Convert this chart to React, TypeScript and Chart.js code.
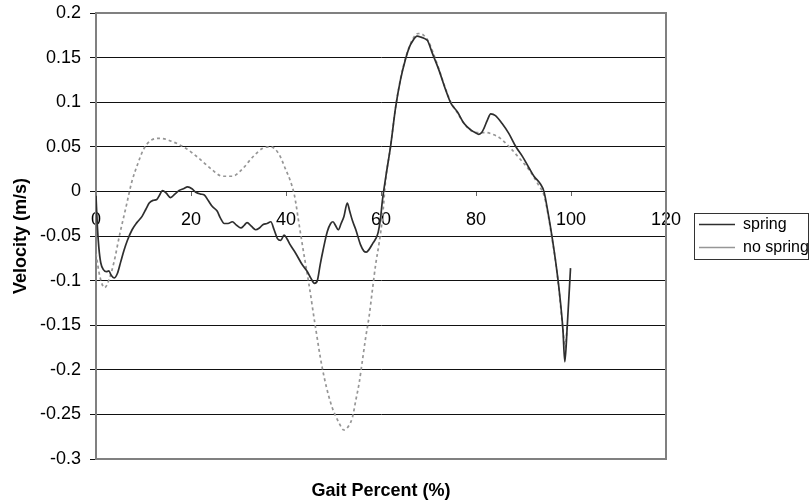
import React, { useEffect, useRef } from "react";
import { Chart, registerables } from "chart.js";

Chart.register(...registerables);

const SERIES_LABELS = ["spring", "no spring"];
const X_TITLE = "Gait Percent (%)";
const Y_TITLE = "Velocity (m/s)";
const X_TICKS = [0, 20, 40, 60, 80, 100, 120];
const Y_TICKS = [-0.3, -0.25, -0.2, -0.15, -0.1, -0.05, 0, 0.05, 0.1, 0.15, 0.2];

const springX = [
  0, 0.3, 0.6, 1.0, 1.6, 2.2, 2.7, 3.2, 3.8, 4.5, 5.2, 5.9, 6.6, 7.6, 8.6, 9.7, 10.5, 11.2, 12.0, 12.8,
  13.4, 14.0, 14.8, 15.7, 16.6, 17.5, 18.4, 19.3, 20.2, 21.0, 22.0, 22.8, 23.6, 24.5, 25.5, 26.2, 27.0,
  27.8, 28.7, 29.6, 30.5, 31.2, 31.8, 32.7, 33.6, 34.4, 35.2, 36.0, 36.8, 37.5, 38.2, 38.9, 39.6, 40.2,
  40.9, 42.0, 43.4, 44.5, 45.2, 46.0, 46.6, 47.2, 47.8, 48.7, 49.4, 49.9, 50.4, 51.0, 51.6, 52.2, 52.9,
  53.4, 54.0, 54.7, 55.7, 56.4, 56.9, 57.5, 58.3, 58.9, 59.4, 59.9, 60.3, 61.0, 62.0, 63.1, 64.1, 65.2,
  66.0, 66.6, 67.6, 68.4, 69.3, 69.8, 70.8, 72.2, 73.6, 74.7, 76.1, 77.5, 78.9, 79.8, 80.6, 81.2, 81.7,
  82.4, 83.1, 84.1, 85.5, 86.9, 88.4, 89.8, 91.2, 92.2, 93.6, 94.3, 95.2, 96.1, 96.8, 97.5, 98.3, 98.7,
  99.2, 99.9,
];
const springV = [
  -0.005, -0.04, -0.063, -0.08, -0.088, -0.09, -0.089, -0.094, -0.097, -0.092, -0.079, -0.066, -0.055,
  -0.043, -0.035, -0.028, -0.02, -0.013, -0.01, -0.009, -0.004, 0.001, -0.002, -0.007, -0.003, 0.001,
  0.003, 0.005, 0.003, -0.001, -0.003, -0.004, -0.01, -0.017, -0.022, -0.03, -0.036, -0.036, -0.034,
  -0.038, -0.041, -0.038, -0.035, -0.039, -0.043, -0.041, -0.037, -0.036, -0.034, -0.043, -0.053, -0.055,
  -0.049, -0.053, -0.06, -0.069, -0.082, -0.09, -0.097, -0.103, -0.1, -0.082, -0.066, -0.045, -0.036,
  -0.034, -0.038, -0.043, -0.036, -0.028, -0.013, -0.022, -0.033, -0.043, -0.06, -0.067, -0.068, -0.065,
  -0.058, -0.053, -0.046, -0.03, -0.01, 0.016, 0.05, 0.095, 0.125, 0.149, 0.162, 0.168, 0.174, 0.173,
  0.171, 0.169, 0.155, 0.136, 0.114, 0.099, 0.089, 0.076, 0.069, 0.066, 0.064, 0.066, 0.071, 0.08, 0.087,
  0.085, 0.076, 0.065, 0.05, 0.039, 0.026, 0.017, 0.008, 0.0, -0.025, -0.054, -0.08, -0.11, -0.155,
  -0.191, -0.152, -0.086,
];

const noSpringX = [
  0, 0.8, 1.8, 2.8, 3.8, 5.0, 6.3, 7.5, 8.8, 10.0, 11.5, 13.5, 16.0, 19.0, 21.7, 24.5, 26.6, 28.7, 30.8,
  32.9, 35.0, 36.8, 38.5, 39.9, 40.9, 41.8, 42.7, 43.6, 44.8, 46.2, 47.6, 49.4, 51.2, 52.2, 53.3, 54.0,
  54.7, 55.4, 56.1, 56.8, 57.5, 58.2, 58.9, 59.6, 60.3, 61.0, 62.0, 63.1, 64.1, 65.2, 66.6, 67.8, 69.0,
  70.0, 71.0, 72.2, 73.6, 74.7, 76.1, 77.5, 79.0, 80.5, 82.0, 83.5, 85.0, 87.0, 89.0, 91.2, 93.3, 94.3,
  95.2, 96.1, 96.8, 97.5, 98.3, 98.8, 99.2,
];
const noSpringV = [
  -0.07, -0.095, -0.108, -0.098, -0.079, -0.048, -0.018, 0.01, 0.031, 0.047, 0.057, 0.0595, 0.056, 0.048,
  0.037, 0.024, 0.017, 0.017, 0.025, 0.038, 0.048, 0.05, 0.042, 0.025, 0.012, -0.005, -0.035, -0.065,
  -0.103, -0.152, -0.197, -0.237, -0.26, -0.2675, -0.262, -0.253, -0.234, -0.215, -0.189, -0.163, -0.14,
  -0.11, -0.081, -0.058, -0.03, 0.014, 0.05, 0.095, 0.126, 0.15, 0.17, 0.177, 0.175, 0.168, 0.155, 0.137,
  0.115, 0.1, 0.088, 0.076, 0.068, 0.066, 0.066, 0.064, 0.06, 0.05, 0.038, 0.024, 0.006, -0.004, -0.027,
  -0.056, -0.08, -0.112, -0.155, -0.175, -0.15,
];

const toPoints = (xs: number[], ys: number[]) => xs.map((x, i) => ({ x, y: ys[i] }));
const fmt = (v: number) => String(Math.round(v * 100) / 100);

const legendBorder = {
  id: "legendBorder",
  afterDraw(chart: any) {
    const lg = chart.legend;
    if (!lg || !lg.legendHitBoxes || !lg.legendHitBoxes.length) return;
    const hb = lg.legendHitBoxes;
    const first = hb[0];
    const last = hb[hb.length - 1];
    const x0 = Math.round(first.left - 5) + 0.5;
    const y0 = Math.round(first.top - 4) + 0.5;
    const x1 = chart.width - 1.5;
    const y1 = Math.round(last.top + last.height + 3) + 0.5;
    const ctx = chart.ctx;
    ctx.save();
    ctx.strokeStyle = "#333";
    ctx.lineWidth = 1;
    ctx.setLineDash([]);
    ctx.strokeRect(x0, y0, x1 - x0, y1 - y0);
    ctx.restore();
  },
};

export default function App() {
  const ref = useRef<HTMLCanvasElement | null>(null);
  useEffect(() => {
    if (!ref.current) return;
    Chart.defaults.font.family = "'Liberation Sans', Arial, sans-serif";
    Chart.defaults.color = "#000";
    const chart = new Chart(ref.current, {
      type: "line",
      data: {
        datasets: [
          {
            label: SERIES_LABELS[0],
            data: toPoints(springX, springV),
            borderColor: "#2e2e2e",
            backgroundColor: "#2e2e2e",
            borderWidth: 1.7,
            pointRadius: 0,
            cubicInterpolationMode: "monotone",
            xAxisID: "x",
            yAxisID: "y",
          },
          {
            label: SERIES_LABELS[1],
            data: toPoints(noSpringX, noSpringV),
            borderColor: "#969696",
            backgroundColor: "#969696",
            borderWidth: 1.7,
            borderDash: [3, 3],
            pointRadius: 0,
            cubicInterpolationMode: "monotone",
            xAxisID: "x",
            yAxisID: "y",
          },
        ],
      },
      options: {
        animation: false,
        responsive: false,
        devicePixelRatio: 1,
        layout: { padding: 0 },
        plugins: {
          tooltip: { enabled: false },
          legend: {
            position: "right",
            fullSize: false,
            maxWidth: 118,
            labels: {
              usePointStyle: true,
              pointStyle: "line",
              pointStyleWidth: 36,
              boxWidth: 36,
              padding: 7,
              font: { size: 16 },
              color: "#000",
            },
          },
        },
        scales: {
          x: {
            type: "linear",
            position: "bottom",
            min: 0,
            max: 120,
            ticks: { display: false },
            grid: { display: false },
            border: { display: true, color: "#808080", width: 2 },
            title: {
              display: true,
              text: X_TITLE,
              font: { size: 18, weight: "bold" },
              color: "#000",
              padding: { top: 0, bottom: 2 },
            },
            afterFit: (s: any) => {
              s.height = 45;
              s.paddingLeft = 0;
              s.paddingRight = 0;
            },
          },
          x2: {
            type: "linear",
            axis: "x",
            position: { y: 0 },
            min: 0,
            max: 120,
            afterBuildTicks: (s: any) => {
              s.ticks = X_TICKS.map((v) => ({ value: v }));
            },
            ticks: { font: { size: 18 }, color: "#000", padding: 13, maxRotation: 0 },
            grid: { drawOnChartArea: false, drawTicks: true, tickLength: 5, color: "#666" },
            border: { display: false },
          },
          x3: {
            type: "linear",
            axis: "x",
            position: "top",
            min: 0,
            max: 120,
            ticks: { display: false },
            grid: { display: false },
            border: { display: true, color: "#808080", width: 2 },
            afterFit: (s: any) => {
              s.height = 13;
              s.paddingLeft = 0;
              s.paddingRight = 0;
            },
          },
          y: {
            type: "linear",
            position: "left",
            min: -0.3,
            max: 0.2,
            afterBuildTicks: (s: any) => {
              s.ticks = Y_TICKS.map((v) => ({ value: v }));
            },
            ticks: {
              font: { size: 18 },
              color: "#000",
              padding: 9,
              callback: (v: any) => fmt(Number(v)),
            },
            grid: { color: "#111", lineWidth: 1, tickLength: 6 },
            border: { display: true, color: "#808080", width: 2 },
            title: {
              display: true,
              text: Y_TITLE,
              font: { size: 18, weight: "bold" },
              color: "#000",
              padding: { top: 10, bottom: 0 },
            },
            afterFit: (s: any) => {
              s.width = 96;
              s.paddingTop = 0;
              s.paddingBottom = 0;
            },
          },
          y2: {
            type: "linear",
            axis: "y",
            position: "right",
            min: -0.3,
            max: 0.2,
            ticks: { display: false },
            grid: { display: false },
            border: { display: true, color: "#808080", width: 2 },
            afterFit: (s: any) => {
              s.width = 26;
              s.paddingTop = 0;
              s.paddingBottom = 0;
            },
          },
        },
      },
      plugins: [legendBorder],
    } as any);
    return () => chart.destroy();
  }, []);
  return (
    <div style={{ position: "fixed", left: 0, top: 0, width: 810, height: 504, background: "#fff" }}>
      <canvas ref={ref} width={810} height={504} style={{ display: "block" }} />
    </div>
  );
}
